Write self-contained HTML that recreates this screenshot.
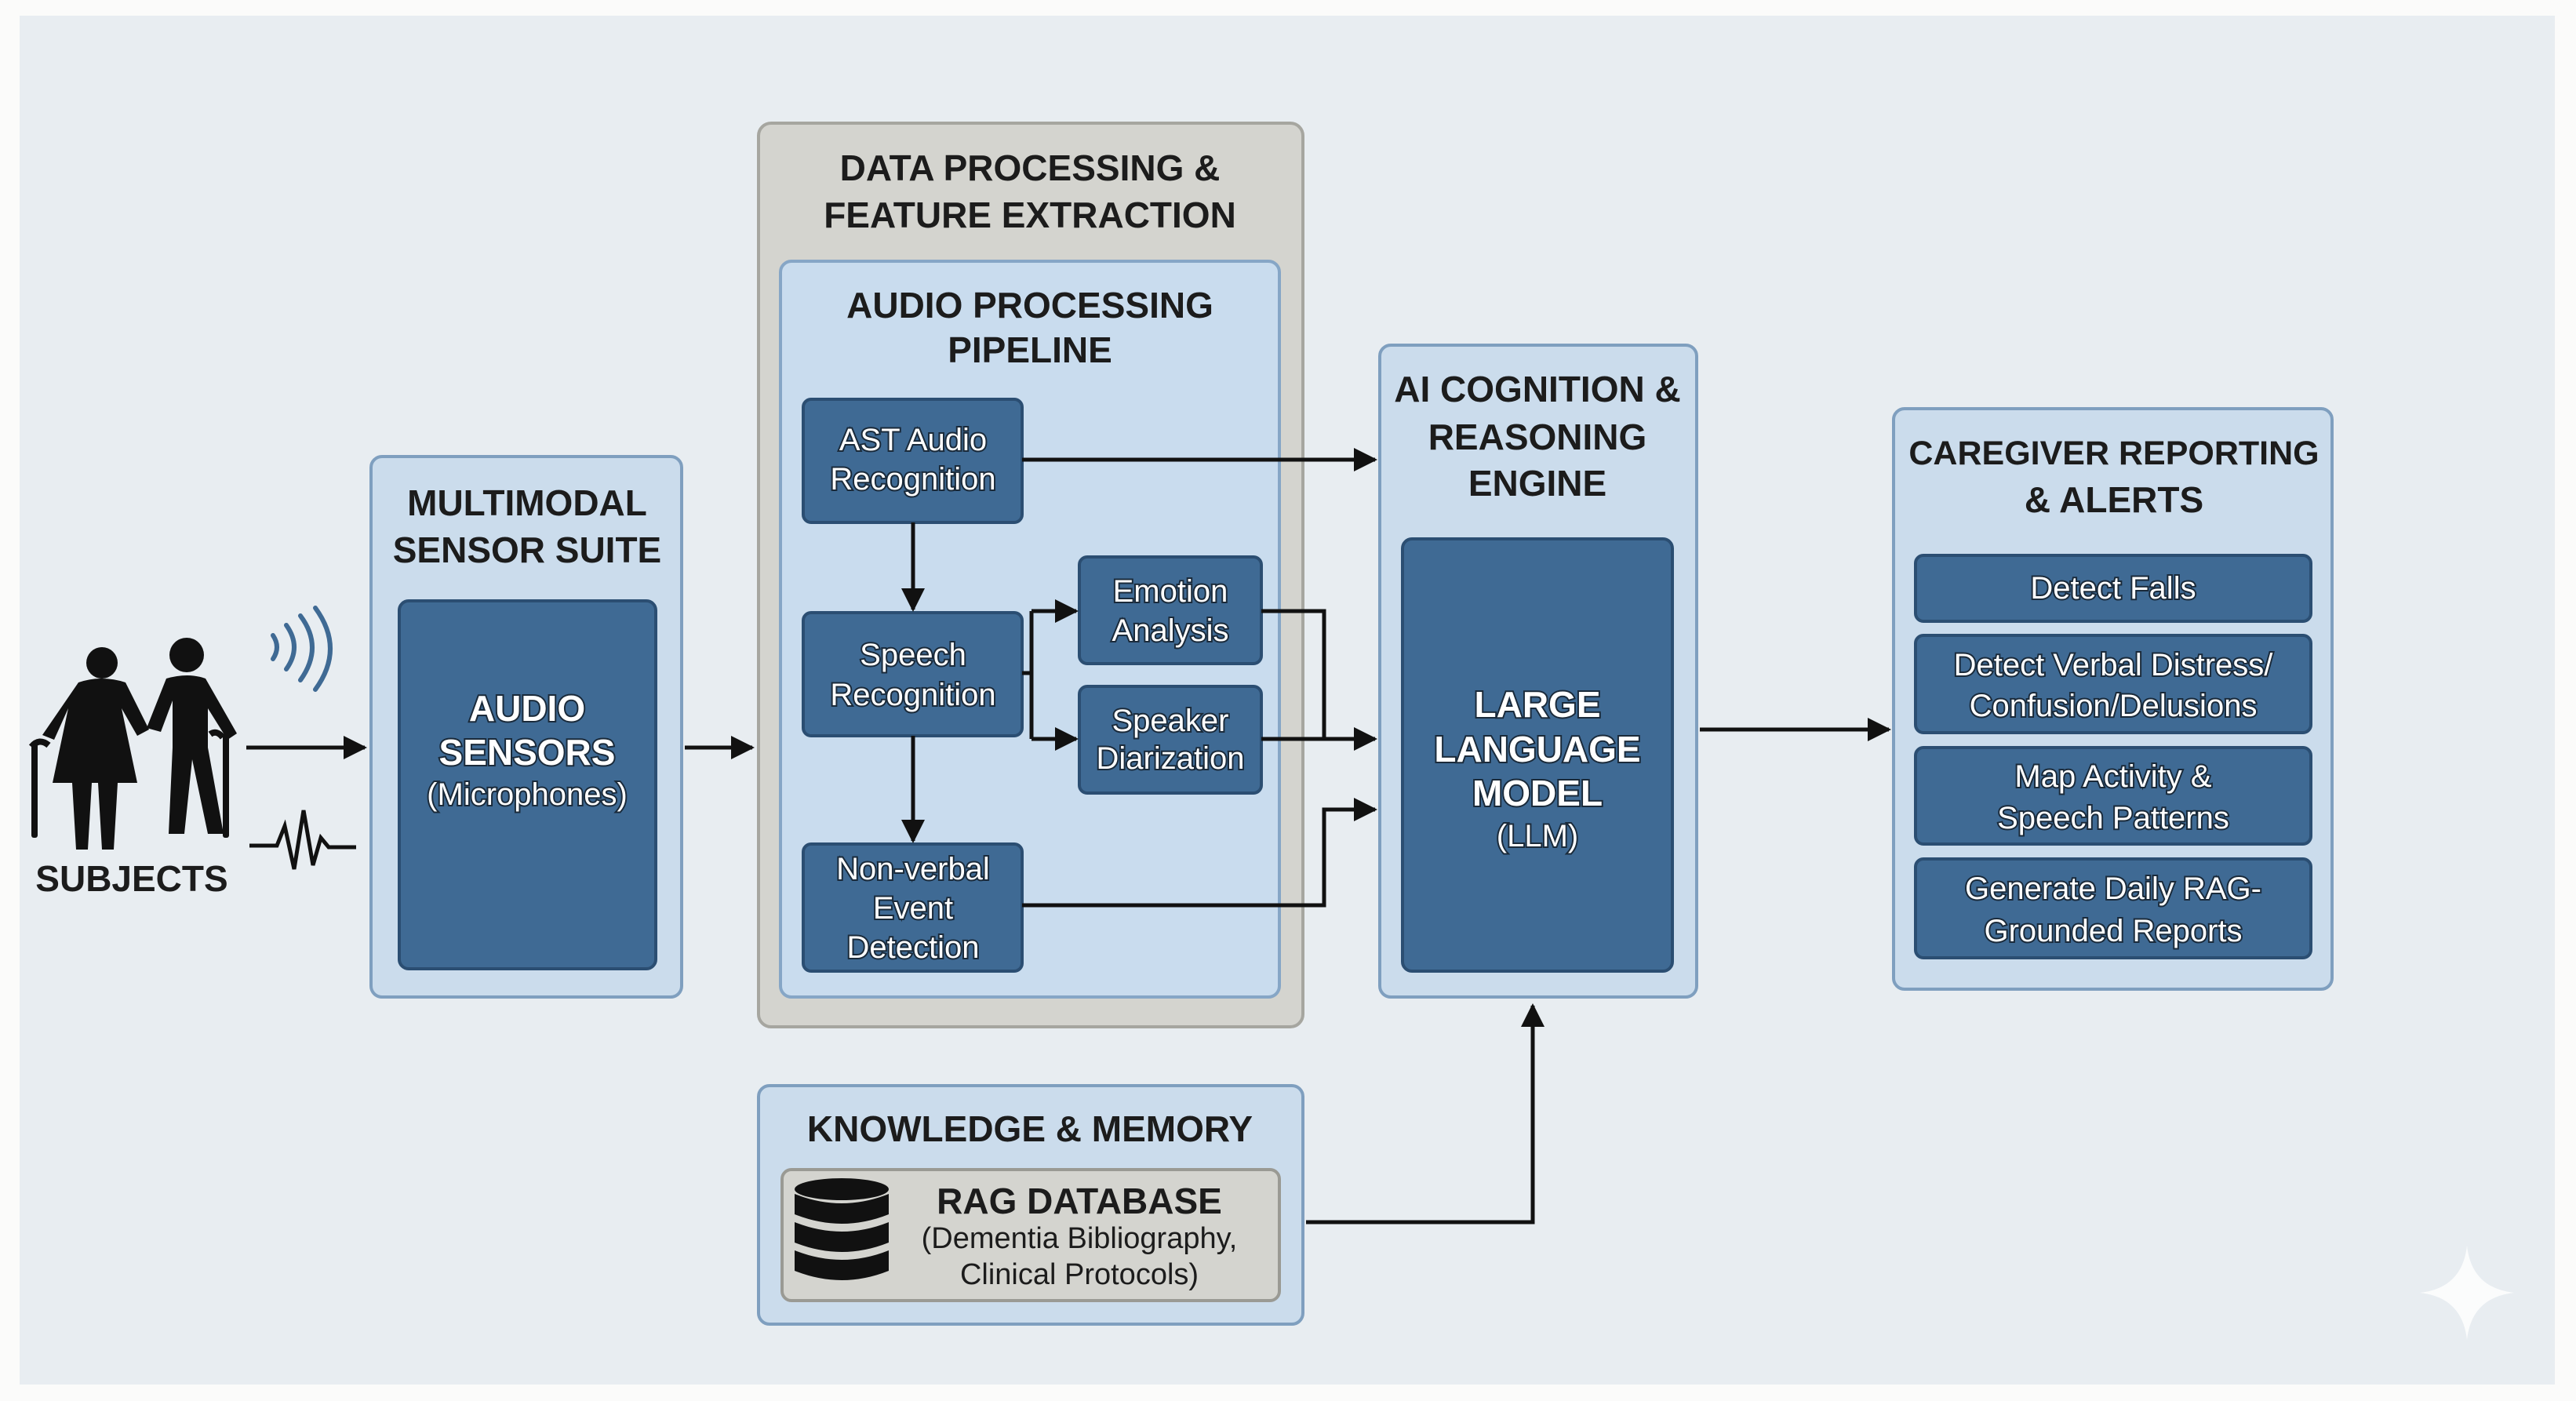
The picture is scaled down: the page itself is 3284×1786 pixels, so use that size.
<!DOCTYPE html>
<html><head><meta charset="utf-8"><style>
html,body{margin:0;padding:0;background:#fff;}
svg{display:block;}
.t{font-family:"Liberation Sans",sans-serif;font-weight:bold;font-size:46px;fill:#1c1c1c;text-anchor:middle;dominant-baseline:central;}
.n{font-family:"Liberation Sans",sans-serif;font-size:40px;fill:#fff;text-anchor:middle;dominant-baseline:central;stroke:#1a2a3a;stroke-width:4px;paint-order:stroke;}
.nb{font-weight:bold;font-size:46px;}
.c{fill:none;stroke:#111;stroke-width:5;}
</style></head><body>
<svg width="3284" height="1786" viewBox="0 0 3284 1786" xmlns="http://www.w3.org/2000/svg">
<defs><marker id="a" viewBox="0 0 10 10" refX="9" refY="5" markerWidth="6" markerHeight="6" markerUnits="strokeWidth" orient="auto"><path d="M0,0L10,5L0,10z" fill="#111"/></marker></defs>
<rect x="0" y="0" width="3284" height="1786" fill="#fbfbfa"/>
<rect x="25" y="20" width="3232" height="1745" fill="#e8edf1"/>

<rect x="473" y="582" width="396" height="689" rx="14" fill="#cbdcec" stroke="#7f9fbf" stroke-width="4"/>
<text class="t" x="672" y="641">MULTIMODAL</text><text class="t" x="672" y="701">SENSOR SUITE</text>
<rect x="509" y="766" width="327" height="469" rx="12" fill="#3f6a94" stroke="#2b4e72" stroke-width="4"/>
<text class="n nb" x="672" y="903">AUDIO</text><text class="n nb" x="672" y="959">SENSORS</text><text class="n" x="672" y="1013">(Microphones)</text>

<rect x="967" y="157" width="694" height="1152" rx="16" fill="#d4d4cf" stroke="#a6a6a0" stroke-width="4"/>
<text class="t" x="1313" y="214">DATA PROCESSING &amp;</text><text class="t" x="1313" y="274">FEATURE EXTRACTION</text>
<rect x="995" y="333" width="636" height="938" rx="14" fill="#c9dcee" stroke="#86a6c6" stroke-width="4"/>
<text class="t" x="1313" y="389">AUDIO PROCESSING</text><text class="t" x="1313" y="446">PIPELINE</text>

<rect x="1024" y="509" width="279" height="157" rx="10" fill="#3f6a94" stroke="#2b4e72" stroke-width="4"/>
<text class="n" x="1164" y="561">AST Audio</text><text class="n" x="1164" y="611">Recognition</text>
<rect x="1024" y="781" width="279" height="157" rx="10" fill="#3f6a94" stroke="#2b4e72" stroke-width="4"/>
<text class="n" x="1164" y="835">Speech</text><text class="n" x="1164" y="886">Recognition</text>
<rect x="1024" y="1076" width="279" height="162" rx="10" fill="#3f6a94" stroke="#2b4e72" stroke-width="4"/>
<text class="n" x="1164" y="1108">Non-verbal</text><text class="n" x="1164" y="1158">Event</text><text class="n" x="1164" y="1208">Detection</text>
<rect x="1376" y="710" width="232" height="136" rx="10" fill="#3f6a94" stroke="#2b4e72" stroke-width="4"/>
<text class="n" x="1492" y="754">Emotion</text><text class="n" x="1492" y="804">Analysis</text>
<rect x="1376" y="875" width="232" height="136" rx="10" fill="#3f6a94" stroke="#2b4e72" stroke-width="4"/>
<text class="n" x="1492" y="919">Speaker</text><text class="n" x="1492" y="967">Diarization</text>

<rect x="1759" y="440" width="404" height="831" rx="14" fill="#cbdcec" stroke="#7f9fbf" stroke-width="4"/>
<text class="t" x="1960" y="496">AI COGNITION &amp;</text><text class="t" x="1960" y="557">REASONING</text><text class="t" x="1960" y="616">ENGINE</text>
<rect x="1788" y="687" width="344" height="551" rx="12" fill="#3f6a94" stroke="#2b4e72" stroke-width="4"/>
<text class="n nb" x="1960" y="898">LARGE</text><text class="n nb" x="1960" y="955">LANGUAGE</text><text class="n nb" x="1960" y="1011">MODEL</text><text class="n" x="1960" y="1066">(LLM)</text>

<rect x="2414" y="521" width="559" height="740" rx="14" fill="#cbdcec" stroke="#7f9fbf" stroke-width="4"/>
<text class="t" style="font-size:43px" x="2695" y="578">CAREGIVER REPORTING</text><text class="t" x="2695" y="637">&amp; ALERTS</text>
<rect x="2442" y="708" width="504" height="84" rx="10" fill="#3f6a94" stroke="#2b4e72" stroke-width="4"/>
<text class="n" x="2694" y="750">Detect Falls</text>
<rect x="2442" y="810" width="504" height="124" rx="10" fill="#3f6a94" stroke="#2b4e72" stroke-width="4"/>
<text class="n" x="2694" y="848">Detect Verbal Distress/</text><text class="n" x="2694" y="900">Confusion/Delusions</text>
<rect x="2442" y="953" width="504" height="123" rx="10" fill="#3f6a94" stroke="#2b4e72" stroke-width="4"/>
<text class="n" x="2694" y="990">Map Activity &amp;</text><text class="n" x="2694" y="1043">Speech Patterns</text>
<rect x="2442" y="1095" width="504" height="126" rx="10" fill="#3f6a94" stroke="#2b4e72" stroke-width="4"/>
<text class="n" x="2694" y="1133">Generate Daily RAG-</text><text class="n" x="2694" y="1187">Grounded Reports</text>

<rect x="967" y="1384" width="694" height="304" rx="14" fill="#cbdcec" stroke="#7f9fbf" stroke-width="4"/>
<text class="t" x="1313" y="1439">KNOWLEDGE &amp; MEMORY</text>
<rect x="997" y="1491" width="634" height="167" rx="12" fill="#d4d4cf" stroke="#9a9a94" stroke-width="4"/>
<text class="t" x="1376" y="1531">RAG DATABASE</text>
<text class="t" style="font-weight:normal;font-size:38px" x="1376" y="1579">(Dementia Bibliography,</text>
<text class="t" style="font-weight:normal;font-size:38px" x="1376" y="1625">Clinical Protocols)</text>
<g fill="#111">
<ellipse cx="1073" cy="1516" rx="60" ry="14"/>
<path d="M1013,1522 q60,24 120,0 v26 q-60,24 -120,0z"/>
<path d="M1013,1558 q60,24 120,0 v26 q-60,24 -120,0z"/>
<path d="M1013,1594 q60,24 120,0 v26 q-60,24 -120,0z"/>
</g>

<g fill="#111">
<circle cx="130" cy="845" r="20"/><circle cx="238" cy="835" r="22"/>
<path d="M100,870 q30,-10 60,0 l30,60 -15,8 -20,-35 20,95 h-25 l-5,85 h-15 l-5,-85 h-8 l-5,85 h-15 l-5,-85 h-25 l20,-95 -18,40 -15,-6z"/>
<path d="M212,865 q28,-8 50,0 l40,70 -12,8 -25,-40 v50 l20,110 h-20 l-20,-95 -10,95 h-20 l5,-110 v-60 l-15,40 -18,-5z"/>
<rect x="40" y="948" width="8" height="120" rx="3"/><path d="M40,952 q10,-12 22,-2" stroke="#111" stroke-width="8" fill="none"/>
<rect x="284" y="935" width="8" height="133" rx="3"/><path d="M284,940 q-8,-10 -16,-4" stroke="#111" stroke-width="8" fill="none"/>
</g>
<text class="t" x="168" y="1120">SUBJECTS</text>
<g fill="none" stroke="#3f6a94" stroke-width="6" stroke-linecap="round">
<path d="M348,810 q10,15 0,30"/><path d="M365,797 q20,28 0,56"/><path d="M383,785 q30,40 0,82"/><path d="M402,775 q38,52 0,104"/>
</g>
<path d="M318,1078 h35 l10,-25 l12,55 l12,-75 l12,70 l10,-35 l10,12 h35" fill="none" stroke="#111" stroke-width="5"/>

<line class="c" x1="314" y1="953" x2="465" y2="953" marker-end="url(#a)"/>
<line class="c" x1="873" y1="953" x2="959" y2="953" marker-end="url(#a)"/>
<line class="c" x1="1303" y1="586" x2="1753" y2="586" marker-end="url(#a)"/>
<line class="c" x1="1164" y1="666" x2="1164" y2="777" marker-end="url(#a)"/>
<line class="c" x1="1164" y1="938" x2="1164" y2="1072" marker-end="url(#a)"/>
<polyline class="c" points="1303,858 1315,858"/>
<polyline class="c" points="1315,779 1315,942"/>
<line class="c" x1="1315" y1="779" x2="1372" y2="779" marker-end="url(#a)"/>
<line class="c" x1="1315" y1="942" x2="1372" y2="942" marker-end="url(#a)"/>
<polyline class="c" points="1608,779 1688,779 1688,942"/>
<line class="c" x1="1608" y1="942" x2="1753" y2="942" marker-end="url(#a)"/>
<polyline class="c" points="1303,1154 1688,1154 1688,1032 1753,1032" marker-end="url(#a)"/>
<line class="c" x1="2167" y1="930" x2="2408" y2="930" marker-end="url(#a)"/>
<polyline class="c" points="1665,1558 1954,1558 1954,1282" marker-end="url(#a)"/>

<path d="M3145,1588 q6,54 60,60 q-54,6 -60,60 q-6,-54 -60,-60 q54,-6 60,-60z" fill="#ffffff" opacity="0.8"/>
</svg>
</body></html>
